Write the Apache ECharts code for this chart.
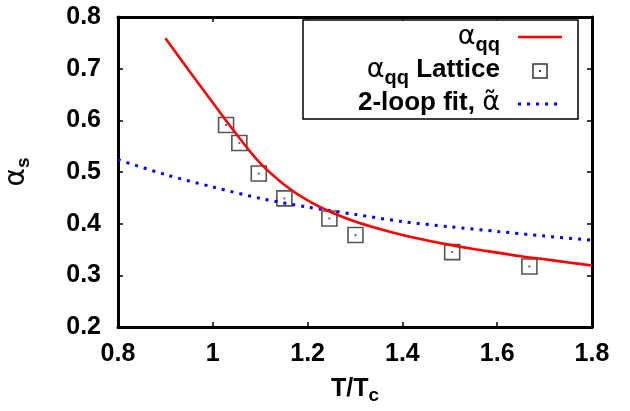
<!DOCTYPE html>
<html>
<head>
<meta charset="utf-8">
<script src="https://cdn.jsdelivr.net/npm/echarts@6/dist/echarts.min.js"></script>
<style>
html,body{margin:0;padding:0;background:#fff;}
#chart{width:630px;height:411px;}
</style>
</head>
<body>
<div id="chart"></div>
<script>
// Red curve: alpha_qq
var redT = [0.90, 0.95, 1.00, 1.05, 1.10, 1.15, 1.20, 1.25, 1.30, 1.35, 1.40, 1.45, 1.50, 1.55, 1.60, 1.65, 1.70, 1.75, 1.80];
var redA = [0.759, 0.696, 0.634, 0.573, 0.517, 0.476, 0.445, 0.422, 0.404, 0.390, 0.378, 0.368, 0.359, 0.351, 0.344, 0.337, 0.331, 0.325, 0.319];
// Blue dotted: 2-loop fit
var fitT = [0.80, 0.90, 1.00, 1.10, 1.20, 1.30, 1.40, 1.50, 1.60, 1.70, 1.80];
var fitA = [0.524, 0.495, 0.471, 0.449, 0.432, 0.418, 0.404, 0.394, 0.385, 0.376, 0.368];
// Lattice points
var latT = [1.028, 1.056, 1.097, 1.151, 1.246, 1.301, 1.505, 1.668];
var latA = [0.591, 0.556, 0.497, 0.449, 0.410, 0.378, 0.345, 0.317];
// Axis ticks
var xTicks = [0.8, 1.0, 1.2, 1.4, 1.6, 1.8];
var yTicks = [0.2, 0.3, 0.4, 0.5, 0.6, 0.7, 0.8];

function zip(a, b) { return a.map(function (v, i) { return [v, b[i]]; }); }

var FONT = 'Liberation Sans, Arial, Helvetica, sans-serif';
var chart = echarts.init(document.getElementById('chart'), null, {renderer: 'canvas'});

var axisCommon = {
  axisLine: {show: true, lineStyle: {color: '#000', width: 3}},
  axisTick: {show: true, inside: true, length: 5, lineStyle: {color: '#000', width: 1.5}},
  splitLine: {show: false}
};

function xAx(pos, labels) {
  return Object.assign({
    type: 'value', position: pos, min: xTicks[0], max: xTicks[xTicks.length - 1],
    interval: 0.2,
    axisLabel: {show: labels, color: '#000', fontFamily: FONT, fontWeight: 'bold', fontSize: 25, margin: 15,
      formatter: function (v) { return String(Math.round(v * 10) / 10); }},
    name: labels ? '{m|T/T}{s|c}' : '',
    nameLocation: 'middle', nameGap: 48,
    nameTextStyle: {rich: {
      m: {fontFamily: FONT, fontWeight: 'bold', fontSize: 25, color: '#000', lineHeight: 28},
      s: {fontFamily: FONT, fontWeight: 'bold', fontSize: 19, color: '#000', lineHeight: 19, padding: [14, 0, 0, 0]}
    }}
  }, axisCommon);
}
function yAx(pos, labels) {
  return Object.assign({
    type: 'value', position: pos, min: yTicks[0], max: yTicks[yTicks.length - 1],
    interval: 0.1,
    axisLabel: {show: labels, color: '#000', fontFamily: FONT, fontWeight: 'bold', fontSize: 25, margin: 17,
      formatter: function (v) { return (Math.round(v * 10) / 10).toFixed(1); }},
    name: labels ? '{a|α}{s|s}' : '',
    nameLocation: 'middle', nameGap: 86, nameRotate: 90,
    nameTextStyle: {rich: {
      a: {fontFamily: 'DejaVu Sans, sans-serif', fontSize: 28, color: '#000', lineHeight: 30},
      s: {fontFamily: FONT, fontWeight: 'bold', fontSize: 19, color: '#000', lineHeight: 19, padding: [14, 0, 0, 0]}
    }}
  }, axisCommon);
}

var legendRich = {
  a: {fontFamily: 'DejaVu Sans, sans-serif', fontSize: 27, color: '#000', lineHeight: 30},
  b: {fontFamily: FONT, fontWeight: 'bold', fontSize: 26, color: '#000', lineHeight: 30},
  q: {fontFamily: FONT, fontWeight: 'bold', fontSize: 20, color: '#000', lineHeight: 20, padding: [16, 0, 0, 0]}
};

var option = {
  animation: false,
  backgroundColor: '#fff',
  grid: {left: 118, right: 38, top: 17, bottom: 84, show: false, containLabel: false, outerBoundsMode: 'none'},
  xAxis: [xAx('bottom', true), xAx('top', false)],
  yAxis: [yAx('left', true), yAx('right', false)],
  series: [
    {type: 'scatter', name: 'lattice', data: zip(latT, latA), symbol: 'rect', symbolSize: 15,
      itemStyle: {color: 'rgba(0,0,0,0)', borderColor: '#2a2a2a', borderWidth: 1.6}, z: 2},
    {type: 'scatter', name: 'latticeDot', data: zip(latT, latA), symbol: 'rect', symbolSize: 2,
      itemStyle: {color: '#444'}, z: 2},
    {type: 'line', name: 'fit', data: zip(fitT, fitA), showSymbol: false, smooth: 0.3,
      lineStyle: {color: '#0000ff', width: 3, type: [3, 6]}, z: 3},
    {type: 'line', name: 'aqq', data: zip(redT, redA), showSymbol: false, smooth: 0.35,
      lineStyle: {color: '#ff0000', width: 2.6}, z: 4}
  ],
  graphic: [
    {type: 'rect', shape: {x: 303, y: 20, width: 275, height: 99},
      style: {fill: '#fff', stroke: '#000', lineWidth: 1.5}, z: 100},
    {type: 'text', x: 500, y: 22, z: 101,
      style: {text: '{a|α}{q|qq}', rich: legendRich, align: 'right', verticalAlign: 'top'}},
    {type: 'line', shape: {x1: 518, y1: 37, x2: 562, y2: 37}, style: {stroke: '#ff0000', lineWidth: 2.6}, z: 101},
    {type: 'text', x: 500, y: 55, z: 101,
      style: {text: '{a|α}{q|qq}{b| Lattice}', rich: legendRich, align: 'right', verticalAlign: 'top'}},
    {type: 'rect', shape: {x: 533, y: 64, width: 14, height: 14}, style: {fill: 'rgba(0,0,0,0)', stroke: '#333', lineWidth: 1.5}, z: 101},
    {type: 'rect', shape: {x: 539, y: 70, width: 2, height: 2}, style: {fill: '#444'}, z: 101},
    {type: 'text', x: 500, y: 88, z: 101,
      style: {text: '{b|2-loop fit, }{a|α̃}', rich: legendRich, align: 'right', verticalAlign: 'top'}},
    {type: 'line', shape: {x1: 518, y1: 104, x2: 562, y2: 104}, style: {stroke: '#0000ff', lineWidth: 3, lineDash: [3, 6]}, z: 101}
  ]
};
chart.setOption(option);
</script>
</body>
</html>
